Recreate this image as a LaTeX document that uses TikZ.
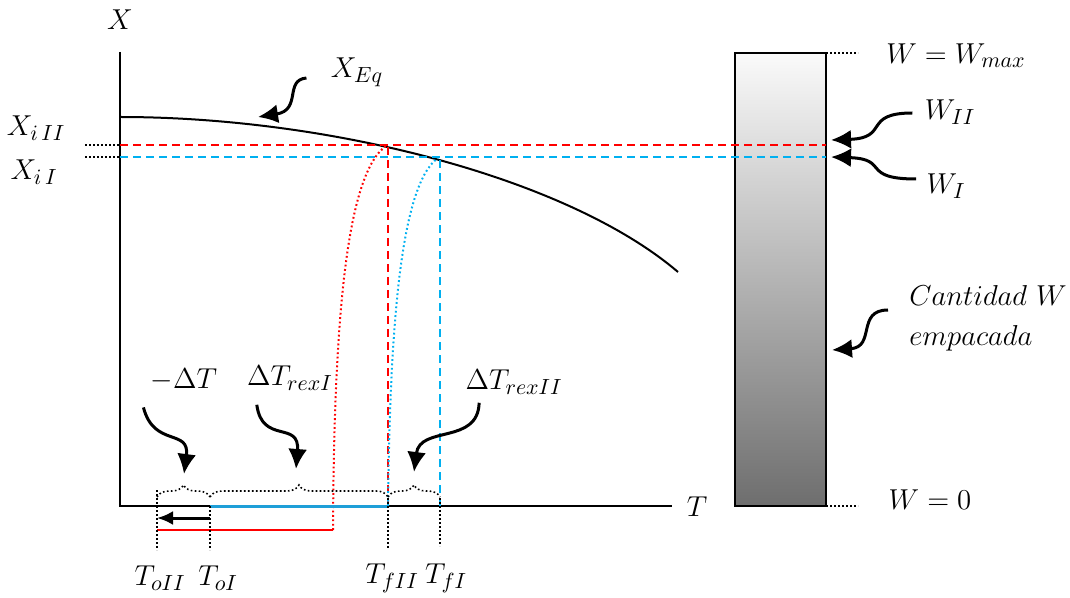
\documentclass[tikz,border=0pt]{standalone}
\usepackage{tikz}
\usetikzlibrary{arrows.meta, decorations.pathreplacing, positioning, calc}
\usepackage{xcolor}
\definecolor{ink}    {HTML}{000000}
\definecolor{rojo}   {HTML}{FF0000}
\definecolor{celeste}{HTML}{00B0F0}
\definecolor{azul}   {HTML}{1E9FD8}
\definecolor{bartop} {HTML}{FAFAFA}
\definecolor{barbot} {HTML}{6E6E6E}
\tikzset{
  axisline/.style = {ink, line width=1pt},
  eqcurve/.style  = {ink, line width=1pt},
  reddash/.style  = {rojo, line width=1.2pt, dash pattern=on 4pt off 2.5pt},
  bluedash/.style = {celeste, line width=1.2pt, dash pattern=on 4pt off 2.5pt},
  reddot/.style   = {rojo, line width=1pt, dash pattern=on 0.9pt off 1.3pt},
  bluedot/.style  = {celeste, line width=1pt, dash pattern=on 0.9pt off 1.3pt},
  guide/.style    = {ink, line width=0.8pt, dash pattern=on 0.8pt off 1.2pt},
  callout/.style  = {-{Latex[length=10pt,width=9.5pt]}, line width=1.5pt, ink},
  bracedot/.style = {guide, decorate, decoration={brace, amplitude=6pt}},
  lbl/.style      = {font=\fontsize{15}{18}\selectfont, inner sep=1pt},
  bar/.style      = {draw=ink, line width=1pt, top color=bartop, bottom color=barbot,
                     inner sep=0pt, outer sep=0pt},
}

\begin{document}
\begin{tikzpicture}[x=0.5pt, y=-0.5pt]
  \useasboundingbox (0,0) rectangle (1070,598);

  % axes
  \coordinate (origin) at (120,506);
  \coordinate (ytop) at (120,52);
  \coordinate (xend) at (672,506);
  \draw[axisline] (ytop) -- (origin) -- (xend);
  \node[lbl] (lX) at (120,20) {$X$};
  \node[lbl] (lT) at (697,507) {$T$};

  % equilibrium curve
  \coordinate (eqStart) at (120,117);
  \coordinate (eqEnd) at (678,272);
  \draw[eqcurve] (eqStart) .. controls (330,117) and (568,178) .. (eqEnd);
  \node[lbl] (lXeq) at (357,72) {$X_{Eq}$};

  % packed amount bar
  \node[bar, minimum width=45.5pt, minimum height=226.5pt, anchor=south west]
    (bar) at (735,506) {};
  \coordinate (wmax) at (858,53);
  \coordinate (wzero) at (858,506);
  \draw[guide] (bar.north east) -- (wmax);
  \draw[guide] (bar.south east) -- (wzero);
  \node[lbl] (lWmax) at (956,56) {$W = W_{max}$};
  \node[lbl] (lW0) at (930,500) {$W = 0$};

  % initial moisture levels
  \coordinate (xii) at (120,145);
  \coordinate (xi) at (120,157);
  \coordinate (wii) at (bar.east |- xii);
  \coordinate (wi) at (bar.east |- xi);
  \coordinate (xiiL) at (85,145);
  \coordinate (xiL) at (85,157);
  \draw[guide] (xiiL) -- (xii);
  \draw[guide] (xiL) -- (xi);
  \draw[reddash] (xii) -- (wii);
  \draw[bluedash] (xi) -- (wi);
  \node[lbl] (lXiII) at (36,128) {$X_{i\,II}$};
  \node[lbl] (lXiI) at (34,172) {$X_{i\,I}$};

  % temperatures
  \coordinate (toii) at (157,506);
  \coordinate (toi) at (210,506);
  \coordinate (tfii) at (388,506);
  \coordinate (tfi) at (440,506);
  \coordinate (tred) at (333,530);
  \draw[reddash] (tfii) -- (tfii |- xii);
  \draw[bluedash] (tfi) -- (tfi |- xi);
  \draw[reddot] (tred) .. controls (334,330) and (345,175) .. (386,146);
  \draw[bluedot] (tfii) .. controls (390,330) and (400,185) .. (438,158);
  \draw[azul, line width=1.5pt] (toi) -- (tfii);
  \draw[rojo, line width=1pt] (toii |- tred) -- (tred);
  \draw[-{Latex[length=8pt,width=7pt]}, line width=1.5pt]
    ([yshift=-6pt]toi) -- ([yshift=-6pt]toii);

  % guides down to labels
  \draw[guide] (157,490) -- (157,550);
  \draw[guide] (toi) -- (210,550);
  \draw[guide] (388,498) -- (388,548);
  \draw[guide] (440,498) -- (440,546);
  \node[lbl] (lToII) at (160,578) {$T_{oII}$};
  \node[lbl] (lToI) at (218,578) {$T_{oI}$};
  \node[lbl] (lTfII) at (392,578) {$T_{fII}$};
  \node[lbl] (lTfI) at (446,578) {$T_{fI}$};

  % braces
  \draw[bracedot] (157,497) -- (210,497);
  \draw[bracedot] (210,497) -- (388,497);
  \draw[bracedot] (388,497) -- (440,497);
  \node[lbl] (ldT) at (184,380) {$-\Delta T$};
  \node[lbl] (lrexI) at (290,378) {$\Delta T_{rexI}$};
  \node[lbl] (lrexII) at (514,382) {$\Delta T_{rexII}$};

  % callouts
  \coordinate (eqTip) at (258,117);
  \coordinate (dTTip) at (184,474);
  \coordinate (rexITip) at (296,469);
  \coordinate (rexIITip) at (414,472);
  \coordinate (wiiTip) at (831,140);
  \coordinate (wiTip) at (831,157);
  \coordinate (cantTip) at (832,350);
  \draw[callout] (lXeq.west) ++(-22,6) .. controls (284,80) and (302,110) .. (eqTip);
  \draw[callout] (ldT.south west) ++(-5,14) .. controls (154,448) and (190,428) .. (dTTip);
  \draw[callout] (lrexI.south west) ++(12,12) .. controls (262,445) and (300,420) .. (rexITip);
  \draw[callout] (lrexII.south west) ++(16,6) .. controls (478,445) and (420,425) .. (rexIITip);

  \node[lbl] (lWII) at (950,112) {$W_{II}$};
  \node[lbl] (lWI) at (946,186) {$W_{I}$};
  \draw[callout] (lWII.west) ++(-10,1) .. controls (862,113) and (890,138) .. (wiiTip);
  \draw[callout] (lWI.west) ++(-8,-7) .. controls (860,179) and (890,159) .. (wiTip);

  \node[lbl, align=left, anchor=west] (lCant) at (907,318)
    {$Cantidad\ W$\\[2pt] $empacada$};
  \draw[callout] (lCant.west) ++(-19,-8) .. controls (856,310) and (876,347) .. (cantTip);

\end{tikzpicture}
\end{document}
